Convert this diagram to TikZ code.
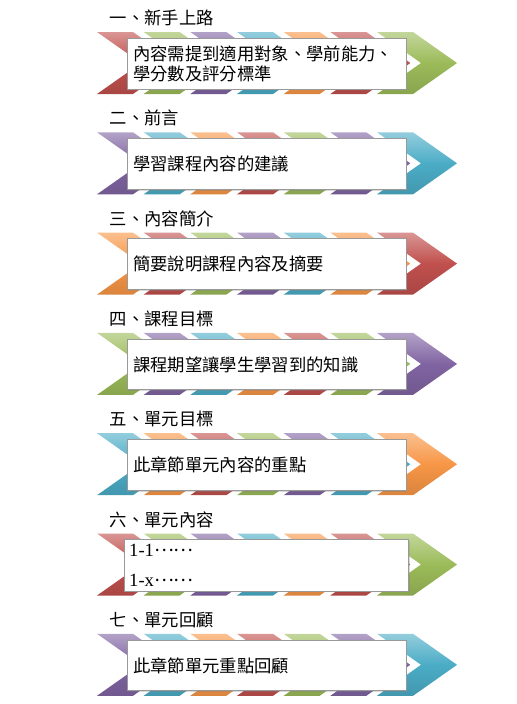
\documentclass[tikz,border=0pt]{standalone}
\usepackage{fontspec}
\setmainfont{Liberation Serif}
\newfontfamily\cjk{Noto Sans CJK TC}
\usetikzlibrary{shadows}
\definecolor{chev0}{HTML}{C0504D}
\definecolor{chev1}{HTML}{9BBB59}
\definecolor{chev2}{HTML}{8064A2}
\definecolor{chev3}{HTML}{4BACC6}
\definecolor{chev4}{HTML}{F79646}
\newcommand{\middots}{\raisebox{3.5pt}{\cjk ……}}
\tikzset{
  title/.style={right, font=\cjk\fontsize{13}{15}\selectfont},
  textbox/.style={draw=black!40, fill=white, line width=0.5pt,
    minimum width=209pt, minimum height=38pt, text width=200pt,
    inner sep=3.5pt, align=left, font=\cjk\fontsize{13}{15}\selectfont,
    drop shadow={opacity=0.3, shadow xshift=1.2pt, shadow yshift=-1.2pt}}
}
\begin{document}
\begin{tikzpicture}[x=0.75pt,y=0.75pt]
		\useasboundingbox (0,0) rectangle (517,-704);
		% chevron bands, colours shift by two each row
		\foreach \r in {1,...,7} {
			\foreach \i in {0,...,6} {
				\pgfmathtruncatemacro\colidx{mod(2*(\r-1)+\i,5)}
				\pgfmathsetmacro\chx{97+\i*46.67}
				\pgfmathsetmacro\chy{-(32+(\r-1)*100.3)}
				\shade [top color=chev\colidx!60!white, bottom color=chev\colidx!88!black, middle color=chev\colidx]
					(\chx,\chy) -- ++(36,0) -- ++(44,-31) -- ++(-44,-31) -- ++(-36,0) -- ++(44,31) -- cycle;
			}
		}
		\draw (105,-18) node (title1) [title] {一、新手上路};
		\draw (266.5,-63.5) node (box1) [textbox] {內容需提到適用對象、學前能力、\\學分數及評分標準};
		\draw (105,-118.3) node (title2) [title] {二、前言};
		\draw (266.5,-163.8) node (box2) [textbox] {學習課程內容的建議};
		\draw (105,-218.6) node (title3) [title] {三、內容簡介};
		\draw (266.5,-264.1) node (box3) [textbox] {簡要說明課程內容及摘要};
		\draw (105,-318.9) node (title4) [title] {四、課程目標};
		\draw (266.5,-364.4) node (box4) [textbox] {課程期望讓學生學習到的知識};
		\draw (105,-419.2) node (title5) [title] {五、單元目標};
		\draw (266.5,-464.7) node (box5) [textbox] {此章節單元內容的重點};
		\draw (105,-519.5) node (title6) [title] {六、單元內容};
		\draw (266.5,-565) node (box6) [textbox, text width=206pt, font=\fontsize{14}{22.5}\selectfont] {1-1\middots\\1-x\middots};
		\draw (105,-619.8) node (title7) [title] {七、單元回顧};
		\draw (266.5,-665.3) node (box7) [textbox] {此章節單元重點回顧};
\end{tikzpicture}
\end{document}
